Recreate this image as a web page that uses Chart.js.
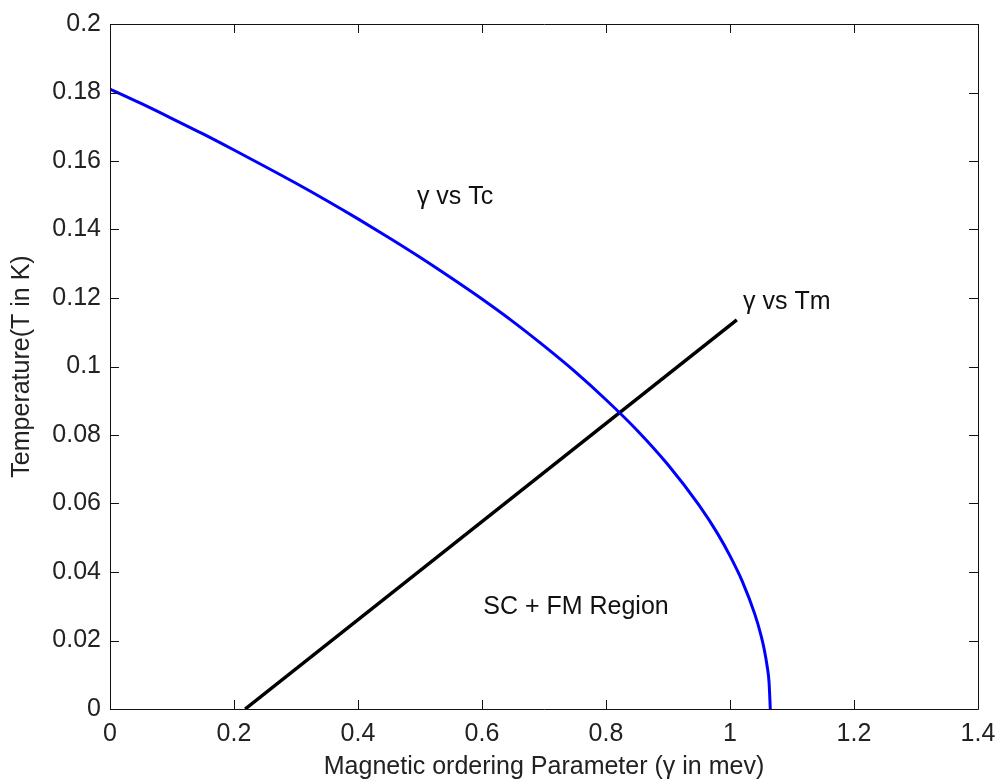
<!DOCTYPE html>
<html>
<head>
<meta charset="utf-8">
<script src="https://cdn.jsdelivr.net/npm/chart.js@4.4.1/dist/chart.umd.min.js"></script>
<style>
  html, body { margin: 0; padding: 0; background: #fff; }
</style>
</head>
<body>
<canvas id="phaseChart" width="998" height="783"></canvas>
<script>
// gamma vs Tc (blue curve)
const tcGamma = [0, 0.05, 0.1, 0.15, 0.2, 0.25, 0.3, 0.35, 0.4, 0.45, 0.5, 0.55, 0.6, 0.65,
  0.7, 0.75, 0.8, 0.85, 0.9, 0.95, 0.98, 1.0, 1.02, 1.04, 1.05, 1.055, 1.06, 1.063, 1.065];
const tcTemp = [0.181, 0.1768, 0.1724, 0.1679, 0.1632, 0.1584, 0.1535, 0.1484, 0.1431, 0.1376,
  0.1319, 0.1259, 0.1197, 0.1131, 0.106, 0.0985, 0.0903, 0.0814, 0.0713, 0.0595, 0.0512, 0.0447,
  0.0372, 0.0277, 0.0215, 0.0176, 0.0124, 0.0078, 0];

// gamma vs Tm (black straight line)
const tmGamma = [0.218, 1.011];
const tmTemp = [0, 0.1136];

// axis ticks
const xTicks = [0, 0.2, 0.4, 0.6, 0.8, 1, 1.2, 1.4];
const yTicks = [0, 0.02, 0.04, 0.06, 0.08, 0.1, 0.12, 0.14, 0.16, 0.18, 0.2];

// text notes inside the axes
const noteText = ['\u03b3 vs Tc', '\u03b3 vs Tm', 'SC + FM Region'];
const noteGamma = [0.495, 1.021, 0.602];
const noteTemp = [0.1495, 0.1188, 0.0298];

const FONT = "'Liberation Sans', Arial, sans-serif";
const fmt = v => String(+Number(v).toFixed(2));

// matlab style box with inward ticks + the text notes
const matlabBox = {
  id: 'matlabBox',
  afterDraw(chart) {
    const { ctx, chartArea: a, scales: { x, y } } = chart;
    const tl = 9;
    ctx.save();
    ctx.strokeStyle = '#111';
    ctx.lineWidth = 1;
    ctx.beginPath();
    ctx.rect(Math.round(a.left) + 0.5, Math.round(a.top) + 0.5,
      Math.round(a.right - a.left), Math.round(a.bottom - a.top));
    xTicks.forEach(v => {
      const px = Math.round(x.getPixelForValue(v)) + 0.5;
      ctx.moveTo(px, a.bottom); ctx.lineTo(px, a.bottom - tl);
      ctx.moveTo(px, a.top); ctx.lineTo(px, a.top + tl);
    });
    yTicks.forEach(v => {
      const py = Math.round(y.getPixelForValue(v)) + 0.5;
      ctx.moveTo(a.left, py); ctx.lineTo(a.left + tl, py);
      ctx.moveTo(a.right, py); ctx.lineTo(a.right - tl, py);
    });
    ctx.stroke();

    ctx.fillStyle = '#111';
    ctx.font = '25px ' + FONT;
    ctx.textAlign = 'left';
    ctx.textBaseline = 'middle';
    noteText.forEach((t, i) => {
      ctx.fillText(t, x.getPixelForValue(noteGamma[i]), y.getPixelForValue(noteTemp[i]));
    });
    ctx.restore();
  }
};

const data = {
  datasets: [
    {
      label: 'Tc',
      data: tcGamma.map((g, i) => ({ x: g, y: tcTemp[i] })),
      borderColor: '#0000ff',
      borderWidth: 3,
      pointRadius: 0,
      cubicInterpolationMode: 'monotone'
    },
    {
      label: 'Tm',
      data: tmGamma.map((g, i) => ({ x: g, y: tmTemp[i] })),
      borderColor: '#000000',
      borderWidth: 3.5,
      pointRadius: 0,
      tension: 0
    }
  ]
};

const config = {
  type: 'line',
  data,
  options: {
    responsive: false,
    animation: false,
    devicePixelRatio: 1,
    layout: { padding: { left: 7, top: 24, right: 20, bottom: 0 } },
    plugins: {
      legend: { display: false },
      tooltip: { enabled: false }
    },
    scales: {
      x: {
        type: 'linear',
        min: 0,
        max: 1.4,
        afterFit: s => { s.height = 74; s.paddingLeft = 0; s.paddingRight = 0; },
        afterBuildTicks: s => { s.ticks = xTicks.map(v => ({ value: v })); },
        grid: { display: false, drawTicks: false },
        border: { display: false },
        ticks: {
          padding: 10,
          color: '#222',
          font: { family: FONT, size: 25 },
          maxRotation: 0,
          callback: fmt
        },
        title: {
          display: true,
          text: 'Magnetic ordering Parameter (\u03b3 in mev)',
          color: '#222',
          font: { family: FONT, size: 25 },
          padding: { top: 0, bottom: 1 }
        }
      },
      y: {
        type: 'linear',
        min: 0,
        max: 0.2,
        afterFit: s => { s.width = 103; s.paddingTop = 0; s.paddingBottom = 0; },
        afterBuildTicks: s => { s.ticks = yTicks.map(v => ({ value: v })); },
        grid: { display: false, drawTicks: false },
        border: { display: false },
        ticks: {
          padding: 9,
          color: '#222',
          font: { family: FONT, size: 25 },
          callback: fmt
        },
        title: {
          display: true,
          text: 'Temperature(T in K)',
          color: '#222',
          font: { family: FONT, size: 25 },
          padding: { top: 0, bottom: 0 }
        }
      }
    }
  },
  plugins: [matlabBox]
};

const myChart = new Chart(document.getElementById('phaseChart'), config);
</script>
</body>
</html>
